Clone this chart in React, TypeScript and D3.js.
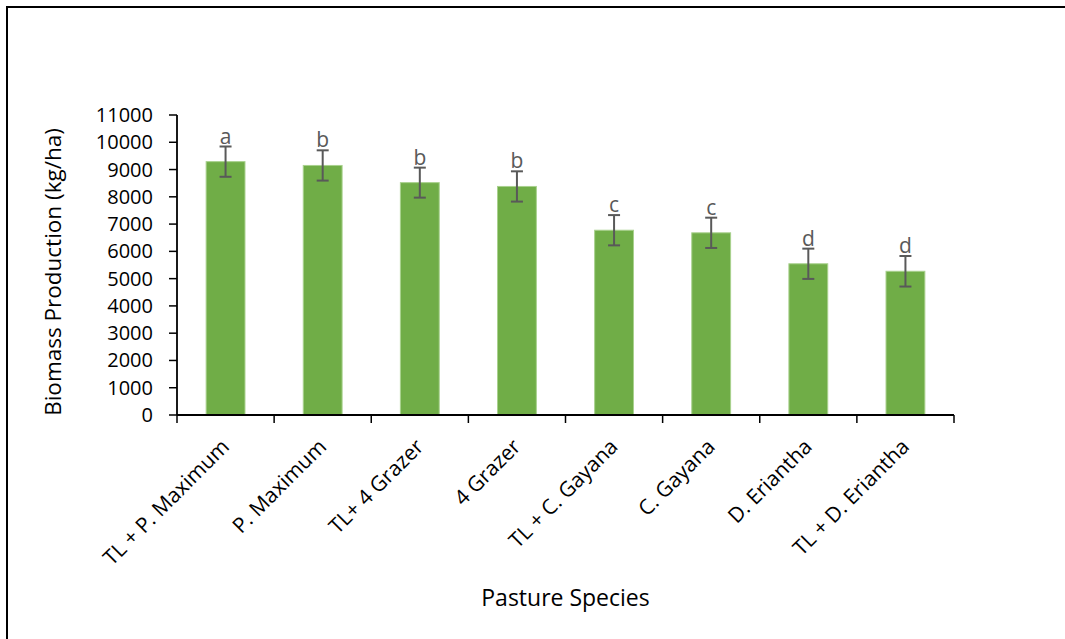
import React from "react";
import * as d3 from "d3";

const species = [
  "TL + P. Maximum",
  "P. Maximum",
  "TL+ 4 Grazer",
  "4 Grazer",
  "TL + C. Gayana",
  "C. Gayana",
  "D. Eriantha",
  "TL + D. Eriantha",
];
const biomass = [9290, 9150, 8520, 8380, 6775, 6680, 5545, 5270];
const errors = [555, 555, 550, 555, 555, 555, 555, 560];
const letters = ["a", "b", "b", "b", "c", "c", "d", "d"];
const yTickValues = d3.range(0, 12000, 1000);

const W = 1065;
const H = 639;
const left = 177;
const right = 954;
const top = 115;
const bottom = 415;
const font = "'Open Sans', 'Noto Sans', sans-serif";

export default function App() {
  // scales
  const x = d3.scaleBand<string>().domain(species).range([left, right]).paddingInner(0.6).paddingOuter(0.3);
  const y = d3.scaleLinear().domain([0, 11000]).range([bottom, top]);
  const step = x.step();
  const xTicks = d3.range(species.length + 1).map((i) => left + i * step);

  return (
    <svg
      width={W}
      height={H}
      style={{ position: "absolute", left: 0, top: 0, background: "#fff" }}
      fontFamily={font}
    >
      {/* frame */}
      <rect x={7} y={7} width={W + 20} height={H + 20} fill="none" stroke="#000" strokeWidth={2} />

      {/* bars */}
      {species.map((s, i) => (
        <rect
          key={s}
          x={x(s)}
          y={y(biomass[i])}
          width={x.bandwidth()}
          height={bottom - y(biomass[i])}
          fill="#70AD47"
          stroke="#A9D18E"
          strokeWidth={1}
        />
      ))}

      {/* error bars + letters */}
      {species.map((s, i) => {
        const cx = (x(s) as number) + x.bandwidth() / 2;
        const hi = y(biomass[i] + errors[i]);
        const lo = y(biomass[i] - errors[i]);
        return (
          <g key={s} stroke="#595959" strokeWidth={2}>
            <line x1={cx} x2={cx} y1={hi} y2={lo} />
            <line x1={cx - 6} x2={cx + 6} y1={hi} y2={hi} />
            <line x1={cx - 6} x2={cx + 6} y1={lo} y2={lo} />
            <text x={cx} y={hi - 3} textAnchor="middle" fontSize={21} fill="#595959" stroke="none">
              {letters[i]}
            </text>
          </g>
        );
      })}

      {/* y axis */}
      <line x1={left} x2={left} y1={top} y2={bottom} stroke="#000" strokeWidth={1.8} />
      {yTickValues.map((t) => (
        <g key={t} transform={`translate(${left},${y(t)})`}>
          <line x1={-8} x2={0} stroke="#000" strokeWidth={1.5} />
          <text x={-24} dy="0.35em" textAnchor="end" fontSize={20} fill="#000">
            {t}
          </text>
        </g>
      ))}

      {/* x axis */}
      <line x1={left} x2={right} y1={bottom} y2={bottom} stroke="#000" strokeWidth={1.8} />
      {xTicks.map((t, i) => (
        <line key={i} x1={t} x2={t} y1={bottom} y2={bottom + 8} stroke="#000" strokeWidth={1.5} />
      ))}
      {species.map((s) => {
        const cx = (x(s) as number) + x.bandwidth() / 2;
        return (
          <text
            key={s}
            transform={`translate(${cx + 5},${bottom + 33}) rotate(-45)`}
            textAnchor="end"
            fontSize={21}
            fill="#000"
          >
            {s}
          </text>
        );
      })}

      {/* axis titles */}
      <text x={(left + right) / 2} y={606} textAnchor="middle" fontSize={23} fill="#000">
        Pasture Species
      </text>
      <text
        transform={`translate(61,272) rotate(-90)`}
        textAnchor="middle"
        fontSize={22.5}
        fill="#000"
      >
        Biomass Production (kg/ha)
      </text>
    </svg>
  );
}
